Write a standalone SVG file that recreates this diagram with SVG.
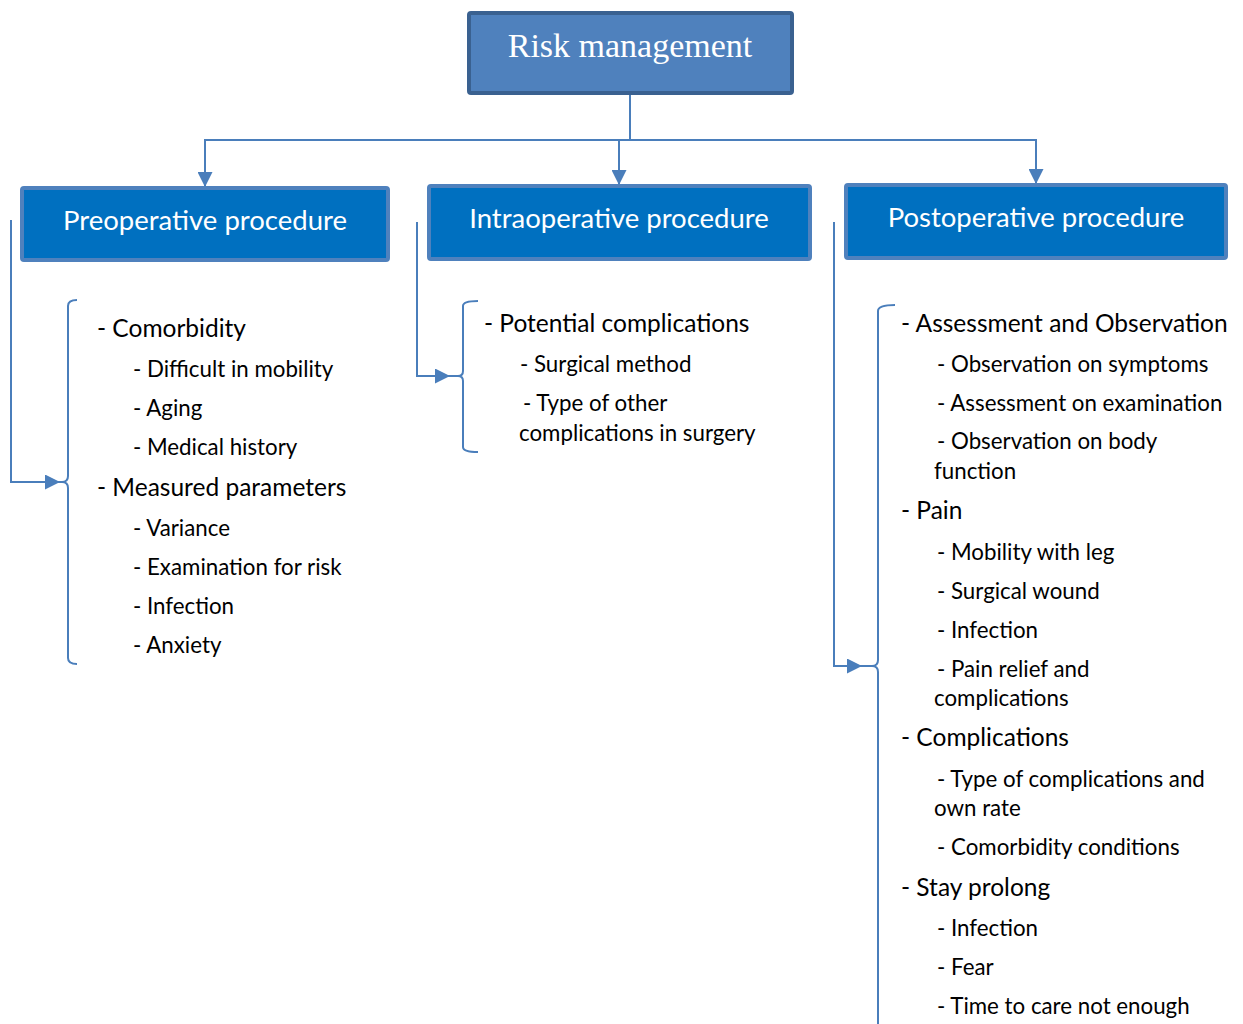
<svg xmlns="http://www.w3.org/2000/svg" width="1243" height="1024" viewBox="0 0 1243 1024">
  <defs>
    <marker id="arrow" markerWidth="15" markerHeight="15" refX="14" refY="7.5" orient="auto" markerUnits="userSpaceOnUse">
      <path d="M0,0 L15,7.5 L0,15 Z" fill="#4a7ebb"/>
    </marker>
    <style>
      .root { fill: #4f81bd; stroke: #3a6190; stroke-width: 4; }
      .phase { fill: #0070c0; stroke: #4f81bd; stroke-width: 4; }
      .root-label { font-family: "Liberation Serif", "DejaVu Serif", serif; font-size: 34px; fill: #ffffff; text-anchor: middle; }
      .phase-label { font-family: Lato, "Liberation Sans", sans-serif; font-size: 27.5px; fill: #ffffff; text-anchor: middle; }
      .link { fill: none; stroke: #4a7ebb; stroke-width: 2; }
      .brace { fill: none; stroke: #4a7ebb; stroke-width: 2; }
      .item { font-family: Lato, "Liberation Sans", sans-serif; font-size: 24.5px; fill: #000000; }
      .sub { font-family: Lato, "Liberation Sans", sans-serif; font-size: 22.3px; fill: #000000; }
    </style>
  </defs>

  <!-- connectors -->
  <g id="connectors">
    <path class="link" d="M630,95 V140"/>
    <path class="link" d="M630,140 H205 V186" marker-end="url(#arrow)"/>
    <path class="link" d="M630,140 H619 V184" marker-end="url(#arrow)"/>
    <path class="link" d="M630,140 H1036 V183" marker-end="url(#arrow)"/>
    <!-- side feeders into the braces -->
    <path class="link" d="M11,220 V482 H59" marker-end="url(#arrow)"/>
    <path class="link" d="M417,222 V376 H449" marker-end="url(#arrow)"/>
    <path class="link" d="M834,222 V666 H861" marker-end="url(#arrow)"/>
    <path class="link" d="M58,482 H66"/>
    <path class="link" d="M448,376 H461"/>
    <path class="link" d="M860,666 H876"/>
  </g>

  <!-- root -->
  <g id="risk-management">
    <rect class="root" x="469" y="13" width="323" height="80" rx="2"/>
    <text class="root-label" x="630" y="57">Risk management</text>
  </g>

  <!-- preoperative -->
  <g id="preoperative">
    <rect class="phase" x="22" y="188" width="366" height="72" rx="2"/>
    <text class="phase-label" x="205" y="230">Preoperative procedure</text>
  </g>
  <g id="preoperative-list">
    <path class="brace" d="M77,300 Q68,300 68,306 V476 Q68,482 62,482 Q68,482 68,488 V658 Q68,664 77,664"/>
    <text class="item" x="97" y="337">- Comorbidity</text>
    <text class="sub" x="133" y="377">- Difficult in mobility</text>
    <text class="sub" x="133" y="416">- Aging</text>
    <text class="sub" x="133" y="455">- Medical history</text>
    <text class="item" x="97" y="496">- Measured parameters</text>
    <text class="sub" x="133" y="536">- Variance</text>
    <text class="sub" x="133" y="575">- Examination for risk</text>
    <text class="sub" x="133" y="614">- Infection</text>
    <text class="sub" x="133" y="653">- Anxiety</text>
  </g>

  <!-- intraoperative -->
  <g id="intraoperative">
    <rect class="phase" x="429" y="186" width="381" height="73" rx="2"/>
    <text class="phase-label" x="619" y="228">Intraoperative procedure</text>
  </g>
  <g id="intraoperative-list">
    <path class="brace" d="M478,301 Q463,301 463,306 V371 Q463,376 458,376 Q463,376 463,381 V447 Q463,452 478,452"/>
    <text class="item" x="484" y="332">- Potential complications</text>
    <text class="sub" x="520" y="372">- Surgical method</text>
    <text class="sub" x="523" y="411">- Type of other</text>
    <text class="sub" x="519" y="441">complications in surgery</text>
  </g>

  <!-- postoperative -->
  <g id="postoperative">
    <rect class="phase" x="846" y="185" width="380" height="73" rx="2"/>
    <text class="phase-label" x="1036" y="227">Postoperative procedure</text>
  </g>
  <g id="postoperative-list">
    <path class="brace" d="M895,305 Q878,305 878,311 V660 Q878,666 872,666 Q878,666 878,672 V1024"/>
    <text class="item" x="901" y="332">- Assessment and Observation</text>
    <text class="sub" x="937" y="372">- Observation on symptoms</text>
    <text class="sub" x="937" y="411">- Assessment on examination</text>
    <text class="sub" x="937" y="449">- Observation on body</text>
    <text class="sub" x="934" y="479">function</text>
    <text class="item" x="901" y="519">- Pain</text>
    <text class="sub" x="937" y="560">- Mobility with leg</text>
    <text class="sub" x="937" y="599">- Surgical wound</text>
    <text class="sub" x="937" y="638">- Infection</text>
    <text class="sub" x="937" y="677">- Pain relief and</text>
    <text class="sub" x="934" y="706">complications</text>
    <text class="item" x="901" y="746">- Complications</text>
    <text class="sub" x="937" y="787">- Type of complications and</text>
    <text class="sub" x="934" y="816">own rate</text>
    <text class="sub" x="937" y="855">- Comorbidity conditions</text>
    <text class="item" x="901" y="896">- Stay prolong</text>
    <text class="sub" x="937" y="936">- Infection</text>
    <text class="sub" x="937" y="975">- Fear</text>
    <text class="sub" x="937" y="1014">- Time to care not enough</text>
  </g>
</svg>
